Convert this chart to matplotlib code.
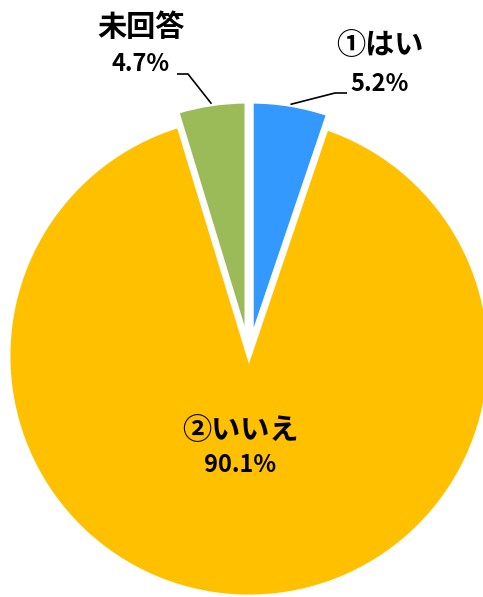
import math

import matplotlib

matplotlib.use("Agg")
import matplotlib.pyplot as plt

plt.rcParams["font.family"] = ["Noto Sans CJK JP", "DejaVu Sans"]

LABELS = ["①はい", "②いいえ", "未回答"]
VALUES = [5.2, 90.1, 4.7]
COLORS = ["#3399FF", "#FFC000", "#9BBB59"]
EXPLODE = [14, 0, 14]

W, H = 483, 597


def main():
    fig = plt.figure(figsize=(W / 100, H / 100), dpi=100)
    ax = fig.add_axes([0, 0, 1, 1])

    center = (249, H - 356)
    radius = 241
    wedges, _ = ax.pie(
        VALUES,
        colors=COLORS,
        explode=EXPLODE,
        startangle=90,
        counterclock=False,
        center=center,
        radius=radius,
        frame=True,
        wedgeprops=dict(edgecolor="white", linewidth=3.5),
    )
    ax.set_xlim(0, W)
    ax.set_ylim(0, H)
    ax.set_aspect("equal")
    ax.axis("off")

    # label placement (image coords: x, name y, value y)
    label_pos = [(380, 45, 84), (240, 430, 465), (141, 27, 64)]
    # leader elbows for the outside labels
    elbows = {0: [(335, 93), (347, 93)], 2: [(188, 74), (177, 74)]}

    for i, (w, lab, val) in enumerate(zip(wedges, LABELS, VALUES)):
        x, yn, yv = label_pos[i]
        ax.text(x, H - yn, lab, ha="center", va="center", fontsize=21,
                fontweight="bold", color="black")
        ax.text(x, H - yv, f"{val:.1f}%", ha="center", va="center", fontsize=17,
                fontweight="bold", color="black")
        if i in elbows:
            mid = math.radians((w.theta1 + w.theta2) / 2)
            ax0 = w.center[0] + w.r * math.cos(mid)
            ay0 = w.center[1] + w.r * math.sin(mid)
            xs = [ax0] + [p[0] for p in elbows[i]]
            ys = [ay0] + [H - p[1] for p in elbows[i]]
            ax.plot(xs, ys, color="black", linewidth=1.2, solid_capstyle="butt")

    fig.savefig("out.png", dpi=100, facecolor="white")
    plt.close(fig)


if __name__ == "__main__":
    main()
